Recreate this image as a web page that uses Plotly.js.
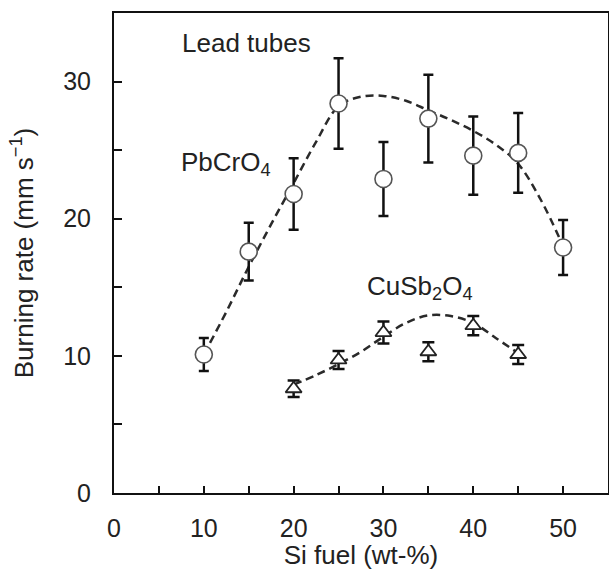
<!DOCTYPE html>
<html>
<head>
<meta charset="utf-8">
<script src="https://cdn.plot.ly/plotly-3.0.1.min.js"></script>
<style>html,body{margin:0;padding:0;background:#fff;}#chart{width:609px;height:570px;}</style>
</head>
<body>
<div id="chart"></div>
<script>
// PbCrO4 measurements (circles)
const pbX = [10, 15, 20, 25, 30, 35, 40, 45, 50];
const pbY = [10.1, 17.6, 21.8, 28.4, 22.9, 27.3, 24.6, 24.8, 17.9];
const pbErr = [1.2, 2.1, 2.6, 3.3, 2.7, 3.2, 2.85, 2.9, 2.0];
// PbCrO4 dashed trend curve
const pbFitX = [10, 12.5, 15, 17.5, 20, 22.5, 25, 27.5, 30, 32.5, 35, 37.5, 40, 42.5, 45, 47.5, 50];
const pbFitY = [10.1, 13.2, 16.5, 19.6, 22.6, 25.6, 28.2, 28.9, 28.95, 28.6, 27.9, 27.2, 26.4, 25.4, 24.0, 21.4, 18.0];
// CuSb2O4 measurements (triangles)
const cuX = [20, 25, 30, 35, 40, 45];
const cuY = [7.6, 9.7, 11.7, 10.3, 12.2, 10.1];
const cuErr = [0.6, 0.65, 0.8, 0.7, 0.7, 0.7];
// CuSb2O4 dashed trend curve
const cuFitX = [20, 22.5, 25, 27.5, 30, 32.5, 35, 37.5, 40, 42.5, 45];
const cuFitY = [7.9, 8.6, 9.4, 10.3, 11.4, 12.4, 12.95, 12.9, 12.4, 11.3, 10.2];

const FONT = 'Liberation Sans, Arial, sans-serif';
const dashLine = {color: '#2a2a2a', width: 2.5, dash: '8px,5px', shape: 'spline', smoothing: 1};

const traces = [
  {x: pbFitX, y: pbFitY, mode: 'lines', line: dashLine, hoverinfo: 'skip'},
  {x: cuFitX, y: cuFitY, mode: 'lines', line: dashLine, hoverinfo: 'skip'},
  {x: pbX, y: pbY, mode: 'markers',
   marker: {symbol: 'circle', size: 17, color: '#ffffff', line: {color: '#555555', width: 1.6}},
   error_y: {type: 'data', array: pbErr, visible: true, color: '#111111', thickness: 2.5, width: 5}},
  {x: cuX, y: cuY, mode: 'markers',
   marker: {symbol: 'triangle-up', size: 14, color: '#ffffff', line: {color: '#222222', width: 1.8}},
   error_y: {type: 'data', array: cuErr, visible: true, color: '#111111', thickness: 2.5, width: 6}}
];

const layout = {
  width: 609, height: 570,
  margin: {l: 114, r: 1, t: 13, b: 77},
  paper_bgcolor: '#ffffff', plot_bgcolor: '#ffffff',
  showlegend: false,
  font: {family: FONT, color: '#222222', size: 25},
  xaxis: {
    range: [0, 55], showgrid: false, zeroline: false,
    showline: true, linecolor: '#111111', linewidth: 2, mirror: true,
    ticks: 'inside', ticklen: 7, tickwidth: 2, tickcolor: '#111111',
    tick0: 0, dtick: 10,
    minor: {dtick: 5, ticks: 'inside', ticklen: 7, tickwidth: 2, tickcolor: '#111111', showgrid: false},
    ticklabelstandoff: 12,
    tickfont: {family: FONT, size: 25, color: '#222222'},
    title: {text: 'Si fuel (wt-%)', font: {family: FONT, size: 26, color: '#222222'}, standoff: 2}
  },
  yaxis: {
    range: [0, 35], showgrid: false, zeroline: false,
    showline: true, linecolor: '#111111', linewidth: 2, mirror: true,
    ticks: 'inside', ticklen: 8, tickwidth: 2, tickcolor: '#111111',
    tick0: 0, dtick: 10,
    minor: {dtick: 5, ticks: 'inside', ticklen: 8, tickwidth: 2, tickcolor: '#111111', showgrid: false},
    ticklabelstandoff: 16,
    tickfont: {family: FONT, size: 25, color: '#222222'},
    title: {text: 'Burning rate (mm s<sup>−1</sup>)', font: {family: FONT, size: 26, color: '#222222'}, standoff: 22}
  },
  annotations: [
    {x: 7.4, y: 32.8, xref: 'x', yref: 'y', text: 'Lead tubes', showarrow: false, xanchor: 'left', yanchor: 'middle', font: {family: FONT, size: 26, color: '#222222'}},
    {x: 7.2, y: 24.0, xref: 'x', yref: 'y', text: 'PbCrO<sub>4</sub>', showarrow: false, xanchor: 'left', yanchor: 'middle', font: {family: FONT, size: 26, color: '#222222'}},
    {x: 28.0, y: 15.0, xref: 'x', yref: 'y', text: 'CuSb<sub>2</sub>O<sub>4</sub>', showarrow: false, xanchor: 'left', yanchor: 'middle', font: {family: FONT, size: 26, color: '#222222'}}
  ]
};

Plotly.newPlot('chart', traces, layout, {staticPlot: true, displayModeBar: false});
</script>
</body>
</html>
